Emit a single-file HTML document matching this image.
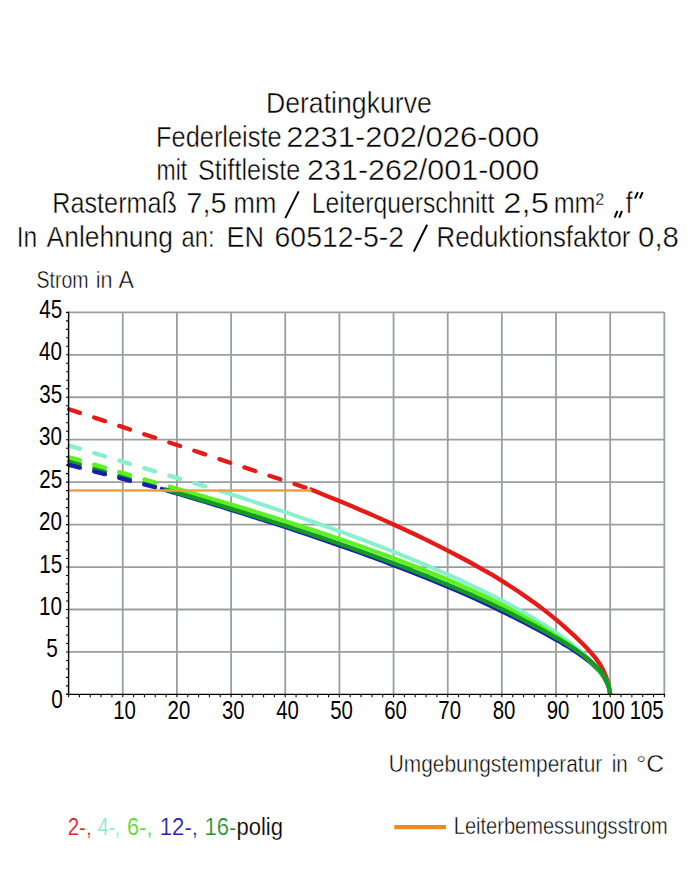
<!DOCTYPE html>
<html><head><meta charset="utf-8"><style>
html,body{margin:0;padding:0;background:#fff;}
svg{display:block;}
text{font-family:"Liberation Sans",sans-serif;}
.t{stroke:#fff;stroke-width:0.45px;}
.u{stroke:#fff;stroke-width:0.2px;}
</style></head><body>
<svg width="697" height="870" viewBox="0 0 697 870">
<rect width="697" height="870" fill="#fff"/>
<path d="M122.76 312.35V694.40M176.92 312.35V694.40M231.08 312.35V694.40M285.24 312.35V694.40M339.40 312.35V694.40M393.56 312.35V694.40M447.72 312.35V694.40M501.88 312.35V694.40M556.04 312.35V694.40M610.20 312.35V694.40M664.36 312.35V694.40M68.60 651.95H664.36M68.60 609.50H664.36M68.60 567.05H664.36M68.60 524.60H664.36M68.60 482.15H664.36M68.60 439.70H664.36M68.60 397.25H664.36M68.60 354.80H664.36M68.60 312.35H664.36" stroke="#999f9f" stroke-width="1.8" fill="none"/>
<path d="M68.60 409.10L309.50 489.00" stroke="#e81a17" stroke-width="4.3" stroke-dasharray="11.38 15.01" stroke-dashoffset="-0.5" stroke-linecap="round" fill="none"/>
<path d="M309.50 489.00C310.87 489.55 314.56 491.00 317.74 492.28C320.91 493.55 324.96 495.18 328.57 496.65C332.18 498.12 335.79 499.60 339.40 501.09C343.01 502.58 346.62 504.09 350.23 505.60C353.84 507.12 357.45 508.65 361.06 510.20C364.67 511.74 368.29 513.30 371.90 514.88C375.51 516.45 379.12 518.04 382.73 519.65C386.34 521.26 389.95 522.88 393.56 524.52C397.17 526.16 400.78 527.81 404.39 529.49C408.00 531.16 411.61 532.86 415.22 534.57C418.83 536.29 422.45 538.02 426.06 539.77C429.67 541.53 433.28 543.31 436.89 545.11C440.50 546.91 444.11 548.73 447.72 550.58C451.33 552.43 454.94 554.31 458.55 556.22C462.16 558.12 465.77 560.05 469.38 562.02C472.99 563.99 476.61 565.98 480.22 568.01C483.83 570.05 487.44 572.09 491.05 574.22C494.66 576.36 498.27 578.58 501.88 580.84C505.49 583.10 509.10 585.42 512.71 587.80C516.32 590.18 519.93 592.62 523.54 595.12C527.15 597.62 530.77 600.16 534.38 602.80C537.99 605.43 541.60 608.11 545.21 610.90C548.82 613.70 553.33 617.35 556.04 619.57C558.75 621.79 559.65 622.63 561.46 624.21C563.26 625.78 565.07 627.41 566.87 629.03C568.68 630.64 570.48 632.26 572.29 633.91C574.09 635.56 575.90 637.21 577.70 638.93C579.51 640.65 581.31 642.40 583.12 644.24C584.93 646.08 586.73 647.97 588.54 649.96C590.34 651.95 592.15 653.94 593.95 656.19C595.76 658.43 598.24 661.86 599.37 663.43C600.50 665.01 600.27 664.85 600.72 665.61C601.17 666.37 601.62 667.16 602.08 668.02C602.53 668.87 602.98 669.78 603.43 670.74C603.88 671.69 604.33 672.70 604.78 673.76C605.24 674.81 605.69 675.90 606.14 677.07C606.59 678.24 607.04 679.41 607.49 680.78C607.94 682.16 608.39 683.06 608.85 685.33C609.30 687.60 609.97 692.89 610.20 694.40" stroke="#e81a17" stroke-width="4.3" fill="none"/>
<path d="M68.60 445.50L219.20 490.64" stroke="#86f0cf" stroke-width="4.3" stroke-dasharray="11.27 14.88" stroke-dashoffset="-0.5" stroke-linecap="round" fill="none"/>
<path d="M219.20 490.64C221.18 491.27 227.29 493.20 231.08 494.40C234.87 495.61 238.30 496.71 241.91 497.87C245.52 499.04 249.13 500.21 252.74 501.39C256.35 502.56 259.97 503.75 263.58 504.94C267.19 506.13 270.80 507.33 274.41 508.54C278.02 509.75 281.63 510.96 285.24 512.18C288.85 513.41 292.46 514.64 296.07 515.88C299.68 517.12 303.29 518.36 306.90 519.62C310.51 520.88 314.13 522.14 317.74 523.42C321.35 524.69 324.96 525.98 328.57 527.27C332.18 528.57 335.79 529.87 339.40 531.18C343.01 532.50 346.62 533.82 350.23 535.16C353.84 536.49 357.45 537.84 361.06 539.20C364.67 540.56 368.29 541.93 371.90 543.31C375.51 544.69 379.12 546.09 382.73 547.50C386.34 548.91 389.95 550.33 393.56 551.76C397.17 553.20 400.78 554.65 404.39 556.11C408.00 557.58 411.61 559.06 415.22 560.56C418.83 562.06 422.45 563.57 426.06 565.10C429.67 566.63 433.28 568.18 436.89 569.75C440.50 571.32 444.11 572.90 447.72 574.51C451.33 576.12 454.94 577.75 458.55 579.41C462.16 581.06 465.77 582.74 469.38 584.44C472.99 586.15 476.61 587.87 480.22 589.63C483.83 591.39 487.44 593.17 491.05 594.99C494.66 596.82 498.27 598.66 501.88 600.56C505.49 602.45 509.10 604.37 512.71 606.34C516.32 608.31 519.93 610.32 523.54 612.39C527.15 614.46 530.77 616.56 534.38 618.74C537.99 620.92 541.60 623.15 545.21 625.47C548.82 627.79 553.33 630.82 556.04 632.66C558.75 634.49 559.65 635.17 561.46 636.46C563.26 637.76 565.07 639.08 566.87 640.44C568.68 641.80 570.48 643.19 572.29 644.62C574.09 646.06 575.90 647.52 577.70 649.05C579.51 650.57 581.31 652.14 583.12 653.78C584.93 655.42 586.73 657.10 588.54 658.90C590.34 660.70 592.15 662.54 593.95 664.56C595.76 666.59 598.24 669.66 599.37 671.04C600.50 672.43 600.27 672.23 600.72 672.85C601.17 673.47 601.62 674.11 602.08 674.77C602.53 675.43 602.98 676.11 603.43 676.82C603.88 677.53 604.33 678.26 604.78 679.03C605.24 679.81 605.69 680.61 606.14 681.48C606.59 682.36 607.04 683.25 607.49 684.29C607.94 685.33 608.39 686.06 608.85 687.75C609.30 689.43 609.97 693.29 610.20 694.40" stroke="#86f0cf" stroke-width="4.0" fill="none"/>
<path d="M68.60 461.00L164.00 489.04" stroke="#139a25" stroke-width="4.3" stroke-dasharray="11.26 14.85" stroke-dashoffset="-0.5" stroke-linecap="round" fill="none"/>
<path d="M68.60 457.10L168.00 486.38" stroke="#5cf220" stroke-width="4.3" stroke-dasharray="11.26 14.86" stroke-dashoffset="-0.5" stroke-linecap="round" fill="none"/>
<path d="M68.60 464.70L160.00 488.54" stroke="#1a1fa8" stroke-width="4.3" stroke-dasharray="11.16 14.73" stroke-dashoffset="-0.5" stroke-linecap="round" fill="none"/>
<path d="M160.00 488.54C161.01 488.83 163.27 489.48 166.09 490.31C168.91 491.14 173.31 492.43 176.92 493.49C180.53 494.56 184.14 495.62 187.75 496.70C191.36 497.77 194.97 498.85 198.58 499.94C202.19 501.02 205.81 502.11 209.42 503.21C213.03 504.30 216.64 505.41 220.25 506.51C223.86 507.62 227.47 508.73 231.08 509.85C234.69 510.97 238.30 512.09 241.91 513.22C245.52 514.35 249.13 515.49 252.74 516.63C256.35 517.77 259.97 518.92 263.58 520.07C267.19 521.23 270.80 522.39 274.41 523.56C278.02 524.73 281.63 525.90 285.24 527.08C288.85 528.27 292.46 529.45 296.07 530.65C299.68 531.85 303.29 533.05 306.90 534.27C310.51 535.48 314.13 536.70 317.74 537.93C321.35 539.16 324.96 540.39 328.57 541.64C332.18 542.88 335.79 544.14 339.40 545.40C343.01 546.67 346.62 547.94 350.23 549.22C353.84 550.50 357.45 551.79 361.06 553.10C364.67 554.40 368.29 555.71 371.90 557.04C375.51 558.36 379.12 559.69 382.73 561.04C386.34 562.39 389.95 563.75 393.56 565.12C397.17 566.49 400.78 567.87 404.39 569.27C408.00 570.66 411.61 572.07 415.22 573.50C418.83 574.92 422.45 576.36 426.06 577.81C429.67 579.27 433.28 580.73 436.89 582.22C440.50 583.71 444.11 585.21 447.72 586.73C451.33 588.25 454.94 589.79 458.55 591.35C462.16 592.92 465.77 594.50 469.38 596.10C472.99 597.70 476.61 599.33 480.22 600.98C483.83 602.63 487.44 604.30 491.05 606.01C494.66 607.71 498.27 609.44 501.88 611.21C505.49 612.97 509.10 614.76 512.71 616.60C516.32 618.43 519.93 620.34 523.54 622.21C527.15 624.09 530.77 625.93 534.38 627.83C537.99 629.73 541.60 631.65 545.21 633.63C548.82 635.60 553.33 638.14 556.04 639.66C558.75 641.19 559.65 641.71 561.46 642.76C563.26 643.82 565.07 644.88 566.87 645.98C568.68 647.08 570.48 648.21 572.29 649.37C574.09 650.53 575.90 651.70 577.70 652.93C579.51 654.16 581.31 655.42 583.12 656.75C584.93 658.09 586.73 659.47 588.54 660.95C590.34 662.43 592.15 663.92 593.95 665.61C595.76 667.29 598.24 669.90 599.37 671.07C600.50 672.24 600.27 672.08 600.72 672.64C601.17 673.19 601.62 673.79 602.08 674.42C602.53 675.05 602.98 675.73 603.43 676.43C603.88 677.13 604.33 677.87 604.78 678.62C605.24 679.38 605.69 680.11 606.14 680.96C606.59 681.82 607.04 682.61 607.49 683.74C607.94 684.87 608.39 685.95 608.85 687.73C609.30 689.50 609.97 693.29 610.20 694.40" stroke="#1a1fa8" stroke-width="4.3" fill="none"/>
<path d="M168.00 486.38C169.49 486.80 173.63 487.96 176.92 488.89C180.21 489.82 184.14 490.93 187.75 491.96C191.36 492.99 194.97 494.03 198.58 495.07C202.19 496.11 205.81 497.15 209.42 498.20C213.03 499.26 216.64 500.31 220.25 501.38C223.86 502.44 227.47 503.51 231.08 504.58C234.69 505.66 238.30 506.74 241.91 507.83C245.52 508.92 249.13 510.01 252.74 511.12C256.35 512.22 259.97 513.33 263.58 514.44C267.19 515.56 270.80 516.68 274.41 517.81C278.02 518.94 281.63 520.08 285.24 521.22C288.85 522.37 292.46 523.52 296.07 524.68C299.68 525.84 303.29 527.01 306.90 528.19C310.51 529.36 314.13 530.55 317.74 531.74C321.35 532.94 324.96 534.14 328.57 535.36C332.18 536.57 335.79 537.79 339.40 539.02C343.01 540.26 346.62 541.50 350.23 542.75C353.84 544.01 357.45 545.27 361.06 546.54C364.67 547.82 368.29 549.11 371.90 550.40C375.51 551.70 379.12 553.01 382.73 554.33C386.34 555.66 389.95 556.99 393.56 558.34C397.17 559.69 400.78 561.05 404.39 562.43C408.00 563.81 411.61 565.20 415.22 566.61C418.83 568.02 422.45 569.44 426.06 570.88C429.67 572.32 433.28 573.78 436.89 575.26C440.50 576.74 444.11 578.23 447.72 579.75C451.33 581.26 454.94 582.78 458.55 584.36C462.16 585.93 465.77 587.56 469.38 589.20C472.99 590.84 476.61 592.52 480.22 594.22C483.83 595.93 487.44 597.67 491.05 599.45C494.66 601.23 498.27 603.04 501.88 604.90C505.49 606.76 509.10 608.65 512.71 610.60C516.32 612.55 519.93 614.59 523.54 616.61C527.15 618.63 530.77 620.65 534.38 622.73C537.99 624.81 541.60 626.92 545.21 629.09C548.82 631.27 553.33 634.07 556.04 635.76C558.75 637.45 559.65 638.04 561.46 639.23C563.26 640.41 565.07 641.61 566.87 642.85C568.68 644.10 570.48 645.38 572.29 646.68C574.09 647.98 575.90 649.30 577.70 650.68C579.51 652.05 581.31 653.43 583.12 654.92C584.93 656.41 586.73 657.96 588.54 659.61C590.34 661.25 592.15 662.95 593.95 664.79C595.76 666.64 598.24 669.42 599.37 670.67C600.50 671.92 600.27 671.73 600.72 672.31C601.17 672.89 601.62 673.52 602.08 674.15C602.53 674.78 602.98 675.44 603.43 676.09C603.88 676.74 604.33 677.37 604.78 678.04C605.24 678.70 605.69 679.31 606.14 680.07C606.59 680.83 607.04 681.52 607.49 682.60C607.94 683.69 608.39 684.62 608.85 686.59C609.30 688.55 609.97 693.10 610.20 694.40" stroke="#5cf220" stroke-width="4.3" fill="none"/>
<path d="M164.00 489.04C166.15 489.66 172.96 491.61 176.92 492.75C180.88 493.90 184.14 494.84 187.75 495.90C191.36 496.95 194.97 498.01 198.58 499.07C202.19 500.13 205.81 501.20 209.42 502.28C213.03 503.35 216.64 504.43 220.25 505.52C223.86 506.60 227.47 507.69 231.08 508.79C234.69 509.89 238.30 510.99 241.91 512.10C245.52 513.21 249.13 514.32 252.74 515.45C256.35 516.57 259.97 517.70 263.58 518.83C267.19 519.97 270.80 521.11 274.41 522.26C278.02 523.41 281.63 524.56 285.24 525.72C288.85 526.89 292.46 528.06 296.07 529.24C299.68 530.41 303.29 531.60 306.90 532.79C310.51 533.99 314.13 535.19 317.74 536.40C321.35 537.61 324.96 538.83 328.57 540.06C332.18 541.29 335.79 542.52 339.40 543.77C343.01 545.02 346.62 546.27 350.23 547.54C353.84 548.80 357.45 550.08 361.06 551.37C364.67 552.65 368.29 553.95 371.90 555.26C375.51 556.57 379.12 557.89 382.73 559.22C386.34 560.55 389.95 561.89 393.56 563.25C397.17 564.61 400.78 565.97 404.39 567.36C408.00 568.74 411.61 570.14 415.22 571.55C418.83 572.96 422.45 574.39 426.06 575.83C429.67 577.27 433.28 578.73 436.89 580.21C440.50 581.69 444.11 583.18 447.72 584.69C451.33 586.21 454.94 587.74 458.55 589.29C462.16 590.84 465.77 592.42 469.38 594.02C472.99 595.61 476.61 597.23 480.22 598.88C483.83 600.53 487.44 602.20 491.05 603.90C494.66 605.60 498.27 607.33 501.88 609.10C505.49 610.87 509.10 612.66 512.71 614.50C516.32 616.34 519.93 618.25 523.54 620.13C527.15 622.01 530.77 623.86 534.38 625.78C537.99 627.69 541.60 629.63 545.21 631.62C548.82 633.61 553.33 636.18 556.04 637.72C558.75 639.26 559.65 639.79 561.46 640.86C563.26 641.93 565.07 643.01 566.87 644.13C568.68 645.25 570.48 646.40 572.29 647.58C574.09 648.76 575.90 649.95 577.70 651.21C579.51 652.47 581.31 653.75 583.12 655.12C584.93 656.49 586.73 657.91 588.54 659.42C590.34 660.94 592.15 662.48 593.95 664.22C595.76 665.96 598.24 668.66 599.37 669.87C600.50 671.09 600.27 670.92 600.72 671.50C601.17 672.07 601.62 672.69 602.08 673.34C602.53 674.00 602.98 674.70 603.43 675.43C603.88 676.16 604.33 676.92 604.78 677.71C605.24 678.50 605.69 679.26 606.14 680.16C606.59 681.05 607.04 681.88 607.49 683.06C607.94 684.24 608.39 685.34 608.85 687.23C609.30 689.12 609.97 693.21 610.20 694.40" stroke="#139a25" stroke-width="4.3" fill="none"/>
<path d="M68.60 490.5H311.5" stroke="#eca23a" stroke-width="2.6" fill="none"/>
<path d="M394.3 827.2H446" stroke="#ef8a22" stroke-width="4.3" fill="none"/>
<path d="M68.60 311.65V695.10M66.00 694.40H665.06" stroke="#000" stroke-width="1.4" fill="none"/>
<path d="M66.00 694.40H68.60M66.00 685.91H68.60M66.00 677.42H68.60M66.00 668.93H68.60M66.00 660.44H68.60M66.00 651.95H68.60M66.00 643.46H68.60M66.00 634.97H68.60M66.00 626.48H68.60M66.00 617.99H68.60M66.00 609.50H68.60M66.00 601.01H68.60M66.00 592.52H68.60M66.00 584.03H68.60M66.00 575.54H68.60M66.00 567.05H68.60M66.00 558.56H68.60M66.00 550.07H68.60M66.00 541.58H68.60M66.00 533.09H68.60M66.00 524.60H68.60M66.00 516.11H68.60M66.00 507.62H68.60M66.00 499.13H68.60M66.00 490.64H68.60M66.00 482.15H68.60M66.00 473.66H68.60M66.00 465.17H68.60M66.00 456.68H68.60M66.00 448.19H68.60M66.00 439.70H68.60M66.00 431.21H68.60M66.00 422.72H68.60M66.00 414.23H68.60M66.00 405.74H68.60M66.00 397.25H68.60M66.00 388.76H68.60M66.00 380.27H68.60M66.00 371.78H68.60M66.00 363.29H68.60M66.00 354.80H68.60M66.00 346.31H68.60M66.00 337.82H68.60M66.00 329.33H68.60M66.00 320.84H68.60M66.00 312.35H68.60M68.60 694.40V697.30M79.43 694.40V697.30M90.26 694.40V697.30M101.10 694.40V697.30M111.93 694.40V697.30M122.76 694.40V697.30M133.59 694.40V697.30M144.42 694.40V697.30M155.26 694.40V697.30M166.09 694.40V697.30M176.92 694.40V697.30M187.75 694.40V697.30M198.58 694.40V697.30M209.42 694.40V697.30M220.25 694.40V697.30M231.08 694.40V697.30M241.91 694.40V697.30M252.74 694.40V697.30M263.58 694.40V697.30M274.41 694.40V697.30M285.24 694.40V697.30M296.07 694.40V697.30M306.90 694.40V697.30M317.74 694.40V697.30M328.57 694.40V697.30M339.40 694.40V697.30M350.23 694.40V697.30M361.06 694.40V697.30M371.90 694.40V697.30M382.73 694.40V697.30M393.56 694.40V697.30M404.39 694.40V697.30M415.22 694.40V697.30M426.06 694.40V697.30M436.89 694.40V697.30M447.72 694.40V697.30M458.55 694.40V697.30M469.38 694.40V697.30M480.22 694.40V697.30M491.05 694.40V697.30M501.88 694.40V697.30M512.71 694.40V697.30M523.54 694.40V697.30M534.38 694.40V697.30M545.21 694.40V697.30M556.04 694.40V697.30M566.87 694.40V697.30M577.70 694.40V697.30M588.54 694.40V697.30M599.37 694.40V697.30M610.20 694.40V697.30M621.03 694.40V697.30M631.86 694.40V697.30M642.70 694.40V697.30M653.53 694.40V697.30M664.36 694.40V697.30" stroke="#000" stroke-width="1.1" fill="none"/>
<text class="t" transform="translate(265.92,113.30) scale(0.9193,1)" font-size="29" fill="#000">Deratingkurve</text>
<text class="t" transform="translate(156.02,146.60) scale(0.8756,1)" font-size="29" fill="#000">Federleiste</text>
<text class="t" transform="translate(286.15,146.60) scale(1.0678,1)" font-size="29" fill="#000">2231-202/026-000</text>
<text class="t" transform="translate(156.56,179.90) scale(0.7931,1)" font-size="29" fill="#000">mit</text>
<text class="t" transform="translate(198.01,179.90) scale(0.8687,1)" font-size="29" fill="#000">Stiftleiste</text>
<text class="t" transform="translate(307.07,179.90) scale(1.0510,1)" font-size="29" fill="#000">231-262/001-000</text>
<text class="t" transform="translate(52.33,213.20) scale(0.8688,1)" font-size="29" fill="#000">Rastermaß</text>
<text class="t" transform="translate(186.34,213.20) scale(1.0005,1)" font-size="29" fill="#000">7,5</text>
<text class="t" transform="translate(233.60,213.20) scale(0.8844,1)" font-size="29" fill="#000">mm</text>
<text class="t" transform="translate(311.77,213.20) scale(0.8519,1)" font-size="29" fill="#000">Leiterquerschnitt</text>
<text class="t" transform="translate(503.37,213.20) scale(1.1276,1)" font-size="29" fill="#000">2,5</text>
<text class="t" transform="translate(553.63,213.20) scale(0.8676,1)" font-size="29" fill="#000">mm²</text>
<text class="t" transform="translate(625.70,213.20) scale(0.8460,1)" font-size="29" fill="#000">f</text>
<text class="t" transform="translate(16.68,246.70) scale(0.8476,1)" font-size="29" fill="#000">In</text>
<text class="t" transform="translate(46.60,246.70) scale(0.9113,1)" font-size="29" fill="#000">Anlehnung</text>
<text class="t" transform="translate(181.56,246.70) scale(0.8182,1)" font-size="29" fill="#000">an:</text>
<text class="t" transform="translate(226.38,246.70) scale(0.9367,1)" font-size="29" fill="#000">EN</text>
<text class="t" transform="translate(274.57,246.70) scale(0.9801,1)" font-size="29" fill="#000">60512-5-2</text>
<text class="t" transform="translate(436.58,246.70) scale(0.8912,1)" font-size="29" fill="#000">Reduktionsfaktor</text>
<text class="t" transform="translate(638.08,246.70) scale(1.0122,1)" font-size="29" fill="#000">0,8</text>
<text class="t" transform="translate(36.49,288.00) scale(0.8316,1)" font-size="23.5" fill="#000">Strom</text>
<text class="t" transform="translate(95.75,288.00) scale(0.9160,1)" font-size="23.5" fill="#000">in</text>
<text class="t" transform="translate(118.40,288.00) scale(0.9817,1)" font-size="23.5" fill="#000">A</text>
<text class="t" transform="translate(388.69,771.50) scale(0.8892,1)" font-size="23.5" fill="#000">Umgebungstemperatur</text>
<text class="t" transform="translate(611.71,771.50) scale(0.8773,1)" font-size="23.5" fill="#000">in</text>
<text class="t" transform="translate(636.24,771.50) scale(1.0551,1)" font-size="23.5" fill="#000">°C</text>
<text class="u" transform="translate(67.64,834.80) scale(0.8942,1)" font-size="23" fill="#d9232b">2-,</text>
<text class="u" transform="translate(97.70,834.80) scale(0.8400,1)" font-size="23" fill="#86e8cc">4-,</text>
<text class="u" transform="translate(127.08,834.80) scale(0.9482,1)" font-size="23" fill="#5ad82a">6-,</text>
<text class="u" transform="translate(159.82,834.80) scale(0.9623,1)" font-size="23" fill="#2424a8">12-,</text>
<text class="u" transform="translate(204.62,834.80) scale(0.9582,1)" font-size="23" fill="#000"><tspan fill="#1f8f2f">16-</tspan><tspan fill="#000">polig</tspan></text>
<text class="t" transform="translate(453.73,833.70) scale(0.8723,1)" font-size="23" fill="#000">Leiterbemessungsstrom</text>
<path d="M285.3 218.1L298.7 191.4M413.8 251.6L427.1 224.8M614.7 217.6L617.4 211M619.2 217.6L622.0 211M635.0 198.5L637.9 192.2M639.9 198.5L642.6 192.2" stroke="#000" stroke-width="2.0" fill="none"/>
<text transform="translate(39.33,317.90) scale(0.8000,1)" font-size="25.74">45</text>
<text transform="translate(39.01,360.35) scale(0.8000,1)" font-size="25.74">40</text>
<text transform="translate(39.33,402.80) scale(0.8000,1)" font-size="25.74">35</text>
<text transform="translate(39.01,445.25) scale(0.8000,1)" font-size="25.74">30</text>
<text transform="translate(39.33,487.70) scale(0.8000,1)" font-size="25.74">25</text>
<text transform="translate(39.01,530.15) scale(0.8000,1)" font-size="25.74">20</text>
<text transform="translate(39.33,572.60) scale(0.8000,1)" font-size="25.74">15</text>
<text transform="translate(39.01,615.05) scale(0.8000,1)" font-size="25.74">10</text>
<text transform="translate(46.15,657.19) scale(0.8000,1)" font-size="26.02">5</text>
<text transform="translate(51.35,708.29) scale(0.8000,1)" font-size="26.02">0</text>
<text transform="translate(113.25,718.50) scale(0.8000,1)" font-size="25.46">10</text>
<text transform="translate(167.57,718.50) scale(0.8000,1)" font-size="25.46">20</text>
<text transform="translate(221.89,718.50) scale(0.8000,1)" font-size="25.46">30</text>
<text transform="translate(276.21,718.50) scale(0.8000,1)" font-size="25.46">40</text>
<text transform="translate(330.21,718.50) scale(0.8000,1)" font-size="25.46">50</text>
<text transform="translate(384.21,718.50) scale(0.8000,1)" font-size="25.46">60</text>
<text transform="translate(438.37,718.50) scale(0.8000,1)" font-size="25.46">70</text>
<text transform="translate(492.69,718.50) scale(0.8000,1)" font-size="25.46">80</text>
<text transform="translate(546.69,718.50) scale(0.8000,1)" font-size="25.46">90</text>
<text transform="translate(590.92,718.50) scale(0.8000,1)" font-size="25.46">100</text>
<text transform="translate(629.68,718.50) scale(0.8000,1)" font-size="25.46">105</text>
</svg>
</body></html>
